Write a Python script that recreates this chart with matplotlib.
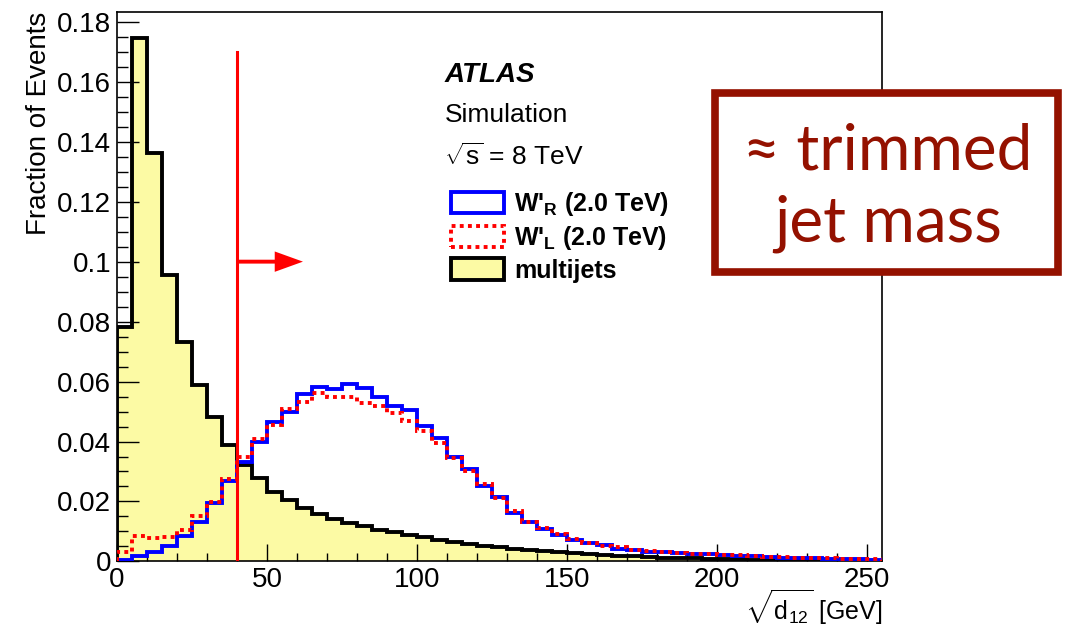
import numpy as np
import matplotlib
matplotlib.use("Agg")
import matplotlib.pyplot as plt
from matplotlib.patches import Patch, Rectangle
from matplotlib.ticker import MultipleLocator

plt.rcParams['font.family'] = ['Liberation Sans', 'DejaVu Sans']
plt.rcParams['mathtext.fontset'] = 'custom'
plt.rcParams['mathtext.rm'] = 'Liberation Sans'
plt.rcParams['mathtext.it'] = 'Liberation Sans:italic'
plt.rcParams['mathtext.bf'] = 'Liberation Sans:bold'

# 5 GeV bins from 0 to 255
edges = np.arange(0, 256, 5)

multijets = [0.0783, 0.1745, 0.1361, 0.0956, 0.0733, 0.0589, 0.0481, 0.0387, 0.0322, 0.0278,
             0.0233, 0.0206, 0.0178, 0.0159, 0.0141, 0.0128, 0.0117, 0.0106, 0.0097, 0.0089,
             0.0080, 0.0072, 0.0065, 0.0058, 0.0052, 0.0047, 0.0042, 0.0038, 0.0034, 0.0030,
             0.0027, 0.0024, 0.0021, 0.0019, 0.0017, 0.0015, 0.0013, 0.0012, 0.0010, 0.0009,
             0.0008, 0.0007, 0.0006, 0.0005, 0.0005, 0.0004, 0.0004, 0.0003, 0.0003, 0.0003,
             0.0002]

wprime_r = [0.0006, 0.0019, 0.0033, 0.0053, 0.0086, 0.0133, 0.0195, 0.0269, 0.0333, 0.0400,
            0.0465, 0.0500, 0.0558, 0.0583, 0.0575, 0.0592, 0.0578, 0.0550, 0.0520, 0.0506,
            0.0453, 0.0411, 0.0349, 0.0308, 0.0251, 0.0215, 0.0163, 0.0133, 0.0108, 0.0089,
            0.0072, 0.0061, 0.0055, 0.0041, 0.0037, 0.0033, 0.0030, 0.0028, 0.0026, 0.0024,
            0.0021, 0.0019, 0.0017, 0.0015, 0.0013, 0.0011, 0.0010, 0.0009, 0.0008, 0.0007,
            0.0006]

wprime_l = [0.0033, 0.0086, 0.0078, 0.0083, 0.0106, 0.0150, 0.0197, 0.0276, 0.0347, 0.0409,
            0.0456, 0.0508, 0.0533, 0.0561, 0.0550, 0.0548, 0.0528, 0.0517, 0.0494, 0.0467,
            0.0436, 0.0395, 0.0345, 0.0302, 0.0259, 0.0211, 0.0167, 0.0133, 0.0111, 0.0091,
            0.0075, 0.0061, 0.0052, 0.0047, 0.0037, 0.0034, 0.0030, 0.0028, 0.0026, 0.0024,
            0.0022, 0.0020, 0.0018, 0.0016, 0.0014, 0.0012, 0.0011, 0.0010, 0.0009, 0.0008,
            0.0007]

cut_value = 40
arrow_y = 0.10
arrow_end = 62
cut_top = 0.17

yellow = '#fcfaa4'
darkred = '#941100'
dots = (0, (1.0, 1.1))

fig = plt.figure(figsize=(10.72, 6.28), dpi=100)
ax = fig.add_axes([0.109, 0.106, 0.714, 0.875])

ax.stairs(multijets, edges, fill=True, color=yellow, baseline=0, zorder=1)
ax.stairs(multijets, edges, color='black', lw=2.8, baseline=0, zorder=2)
ax.stairs(wprime_r, edges, color='blue', lw=2.8, baseline=0, zorder=3)
ax.stairs(wprime_l, edges, color='red', lw=2.8, ls=dots, baseline=0, zorder=4)

# cut line with arrow
ax.plot([cut_value, cut_value], [0, cut_top], color='red', lw=2.2, zorder=5)
ax.arrow(cut_value, arrow_y, arrow_end - cut_value, 0, width=0.0013, head_width=0.0068,
         head_length=9.4, length_includes_head=True, color='red', lw=0, zorder=5)

ax.set_xlim(0, 255)
ax.set_ylim(0, 0.1833)
ax.xaxis.set_major_locator(MultipleLocator(50))
ax.xaxis.set_minor_locator(MultipleLocator(10))
ax.yaxis.set_minor_locator(MultipleLocator(0.005))
ax.set_yticks(np.arange(0, 0.181, 0.02))
ax.set_yticklabels(['0', '0.02', '0.04', '0.06', '0.08', '0.1', '0.12', '0.14', '0.16', '0.18'])
ax.tick_params(which='both', direction='in', top=False, right=False, labelsize=20, width=1)
ax.tick_params(axis='y', which='major', length=16, pad=4)
ax.tick_params(axis='y', which='minor', length=8)
ax.tick_params(axis='x', which='major', length=12, pad=4)
ax.tick_params(axis='x', which='minor', length=6)
for sp in ax.spines.values():
    sp.set_linewidth(1.2)

ax.set_ylabel('Fraction of Events', loc='top', fontsize=20, labelpad=4)
# x label placed by hand so the radical sign stays inside the figure
fig.text(882 / 1072, 1 - 620 / 628, r'$\sqrt{\mathrm{d}_{12}}$ [GeV]', fontsize=18,
         ha='right', va='baseline')

# ATLAS labels
ax.text(0.428, 0.885, 'ATLAS', transform=ax.transAxes, fontsize=20,
        fontweight='bold', style='italic', va='center')
ax.text(0.428, 0.812, 'Simulation', transform=ax.transAxes, fontsize=19, va='center')
ax.text(0.428, 0.736, r'$\sqrt{\mathrm{s}}$ = 8 TeV', transform=ax.transAxes, fontsize=19, va='center')

handles = [Patch(facecolor='white', edgecolor='blue', lw=2.8),
           Patch(facecolor='white', edgecolor='red', lw=2.8, ls=dots),
           Patch(facecolor=yellow, edgecolor='black', lw=2.8)]
labels = [r"W'$_{\mathbf{R}}$ (2.0 TeV)", r"W'$_{\mathbf{L}}$ (2.0 TeV)", 'multijets']
leg = ax.legend(handles, labels, loc='upper left', bbox_to_anchor=(0.437, 0.676),
                frameon=False, prop={'weight': 'bold', 'size': 18},
                handlelength=2.1, handleheight=0.95, handletextpad=0.4,
                labelspacing=0.25, borderpad=0, borderaxespad=0)

# annotation box
fig.patches.append(Rectangle((715 / 1072, 1 - 272 / 628), 343 / 1072, 179 / 628,
                             transform=fig.transFigure, facecolor='white',
                             edgecolor=darkred, lw=5.5, zorder=10))
fig.text(888 / 1072, 1 - 152 / 628, '\u2248 trimmed', color=darkred, fontsize=46,
         family=['Lato', 'DejaVu Sans'], ha='center', va='center', zorder=11)
fig.text(888 / 1072, 1 - 224 / 628, 'jet mass', color=darkred, fontsize=46,
         family=['Lato', 'DejaVu Sans'], ha='center', va='center', zorder=11)

fig.savefig('out.png', dpi=100)
